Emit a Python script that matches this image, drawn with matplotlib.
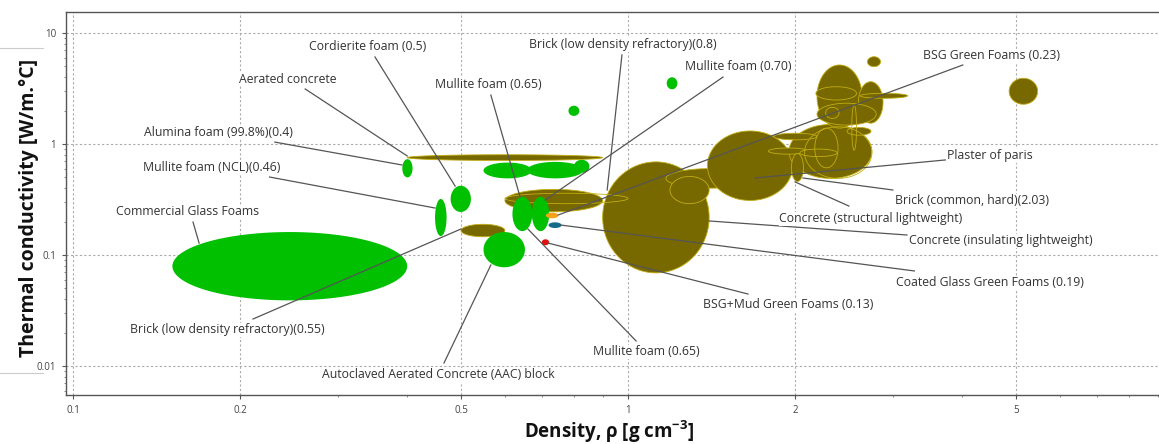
import numpy as np
import matplotlib
matplotlib.use("Agg")
import matplotlib.pyplot as plt
from matplotlib.ticker import FixedLocator, NullFormatter, LogLocator
from matplotlib.lines import Line2D

plt.rcParams['font.family'] = ['Open Sans', 'DejaVu Sans']
plt.rcParams['mathtext.fontset'] = 'custom'
plt.rcParams['mathtext.rm'] = 'Open Sans'
plt.rcParams['mathtext.bf'] = 'Open Sans:bold'

# material bubbles: density range [g/cm3], conductivity range [W/m.C]
olive_rho_lo = [0.40, 0.90, 0.60, 0.50, 1.17, 1.19, 1.39, 1.95, 2.19, 2.60, 2.18, 2.62, 2.19, 2.48, 1.83, 1.79, 2.04, 1.97, 2.70, 4.86]
olive_rho_hi = [0.90, 1.40, 0.90, 0.60, 1.69, 1.40, 1.98, 2.75, 2.64, 2.88, 2.58, 3.19, 2.80, 2.74, 2.19, 2.11, 2.38, 2.07, 2.85, 5.47]
olive_k_lo = [0.71, 0.069, 0.245, 0.146, 0.40, 0.29, 0.31, 0.49, 1.39, 1.54, 2.49, 2.58, 1.48, 1.20, 1.09, 0.81, 0.77, 0.46, 4.97, 2.28]
olive_k_hi = [0.80, 0.69, 0.39, 0.189, 0.60, 0.51, 1.31, 1.50, 5.15, 3.64, 3.28, 2.86, 2.33, 1.41, 1.25, 0.92, 0.90, 0.82, 6.11, 3.91]

# outline-only bubbles
ring_rho_lo = [0.60, 2.27, 2.53, 2.17, 2.08]
ring_rho_hi = [1.00, 2.40, 2.58, 2.39, 2.75]
ring_k_lo = [0.29, 1.70, 0.88, 0.61, 0.49]
ring_k_hi = [0.36, 2.14, 2.25, 1.39, 1.43]

green_rho_lo = [0.151, 0.392, 0.449, 0.479, 0.619, 0.671, 0.549, 0.549, 0.658, 0.799, 0.781, 1.174]
green_rho_hi = [0.400, 0.409, 0.471, 0.521, 0.672, 0.721, 0.652, 0.671, 0.831, 0.852, 0.817, 1.227]
green_k_lo = [0.039, 0.50, 0.148, 0.244, 0.164, 0.164, 0.0775, 0.49, 0.49, 0.55, 1.79, 3.11]
green_k_hi = [0.161, 0.73, 0.32, 0.42, 0.335, 0.335, 0.161, 0.68, 0.69, 0.72, 2.21, 3.99]

# new green foams: BSG, Coated Glass, BSG+Mud
foam_rho_lo = [0.711, 0.719, 0.699]
foam_rho_hi = [0.749, 0.759, 0.721]
foam_k_lo = [0.214, 0.175, 0.1223]
foam_k_hi = [0.2405, 0.197, 0.1385]
foam_colors = ['#f7a21b', '#156b8a', '#e01010']

labels = ['Cordierite foam (0.5)', 'Aerated concrete', 'Alumina foam (99.8%)(0.4)',
          'Mullite foam (NCL)(0.46)', 'Commercial Glass Foams', 'Brick (low density refractory)(0.55)',
          'Autoclaved Aerated Concrete (AAC) block', 'Mullite foam (0.65)',
          'Brick (low density refractory)(0.8)', 'Mullite foam (0.70)', 'BSG Green Foams (0.23)',
          'Plaster of paris', 'Brick (common, hard)(2.03)', 'Concrete (structural lightweight)',
          'Concrete (insulating lightweight)', 'Coated Glass Green Foams (0.19)',
          'BSG+Mud Green Foams (0.13)', 'Mullite foam (0.65)']
label_x = [0.340, 0.244, 0.1825, 0.178, 0.1605, 0.190, 0.455, 0.560, 0.979, 1.578, 4.51, 4.49, 4.17, 2.74, 4.70, 4.49, 1.943, 1.077]
label_y = [7.48, 3.85, 1.28, 0.608, 0.244, 0.0211, 0.0083, 3.47, 7.80, 4.94, 6.21, 0.78, 0.3065, 0.211, 0.1337, 0.056, 0.0355, 0.01337]
lead_x0 = [0.350, 0.262, 0.231, 0.226, 0.1645, 0.211, 0.466, 0.566, 0.975, 1.483, 4.01, 3.73, 3.0, 2.50, 3.18, 3.28, 1.645, 1.034]
lead_y0 = [6.08, 3.13, 1.04, 0.504, 0.198, 0.0265, 0.01064, 2.76, 6.34, 4.01, 5.15, 0.718, 0.385, 0.276, 0.1514, 0.0718, 0.0445, 0.0168]
lead_x1 = [0.488, 0.400, 0.3915, 0.449, 0.1687, 0.500, 0.566, 0.639, 0.917, 0.709, 0.748, 1.694, 2.066, 2.0, 1.40, 0.757, 0.718, 0.660]
lead_y1 = [0.418, 0.78, 0.647, 0.265, 0.128, 0.1715, 0.0813, 0.333, 0.385, 0.313, 0.229, 0.494, 0.494, 0.455, 0.2025, 0.186, 0.128, 0.1715]

x_ticks = [0.1, 0.2, 0.5, 1, 2, 5]
x_ticklabels = ['0.1', '0.2', '0.5', '1', '2', '5']
y_ticks = [0.01, 0.1, 1, 10]
y_ticklabels = ['0.01', '0.1', '1', '10']

OLIVE = '#776800'
EDGE = '#c2ad12'
GREEN = '#00c000'


def bubble(ax, x0, x1, y0, y1, **kw):
    # ellipse in log-log space
    t = np.linspace(0, 2 * np.pi, 120)
    cx = (np.log10(x0) + np.log10(x1)) / 2
    rx = (np.log10(x1) - np.log10(x0)) / 2
    cy = (np.log10(y0) + np.log10(y1)) / 2
    ry = (np.log10(y1) - np.log10(y0)) / 2
    xs = 10 ** (cx + rx * np.cos(t))
    ys = 10 ** (cy + ry * np.sin(t))
    ax.fill(xs, ys, **kw)


fig = plt.figure(figsize=(11.59, 4.44), dpi=100)
ax = fig.add_axes([0.0569, 0.1104, 0.9431, 0.8626])
ax.set_xscale('log')
ax.set_yscale('log')
ax.set_xlim(0.0971, 9.05)
ax.set_ylim(0.00548, 15.46)

for i in range(len(olive_rho_lo)):
    bubble(ax, olive_rho_lo[i], olive_rho_hi[i], olive_k_lo[i], olive_k_hi[i],
           facecolor=OLIVE, edgecolor=EDGE, linewidth=0.6, zorder=2)
for i in range(len(ring_rho_lo)):
    bubble(ax, ring_rho_lo[i], ring_rho_hi[i], ring_k_lo[i], ring_k_hi[i],
           facecolor='none', edgecolor=EDGE, linewidth=0.6, zorder=2.5)
for i in range(len(green_rho_lo)):
    bubble(ax, green_rho_lo[i], green_rho_hi[i], green_k_lo[i], green_k_hi[i],
           facecolor=GREEN, edgecolor='none', zorder=3)
for i in range(len(foam_rho_lo)):
    bubble(ax, foam_rho_lo[i], foam_rho_hi[i], foam_k_lo[i], foam_k_hi[i],
           facecolor=foam_colors[i], edgecolor='none', zorder=3.5)

for i in range(len(labels)):
    ax.plot([lead_x0[i], lead_x1[i]], [lead_y0[i], lead_y1[i]], color='#555555', lw=0.9, zorder=5)
    ax.text(label_x[i], label_y[i], labels[i], ha='center', va='center', fontsize=8.8,
            color='#333333', zorder=6,
            bbox=dict(facecolor='white', edgecolor='none', pad=0.5))

ax.xaxis.set_major_locator(FixedLocator(x_ticks))
ax.set_xticklabels(x_ticklabels)
ax.yaxis.set_major_locator(FixedLocator(y_ticks))
ax.set_yticklabels(y_ticklabels)
ax.xaxis.set_minor_locator(LogLocator(base=10, subs=np.arange(2, 10)))
ax.yaxis.set_minor_locator(LogLocator(base=10, subs=np.arange(2, 10)))
ax.xaxis.set_minor_formatter(NullFormatter())
ax.yaxis.set_minor_formatter(NullFormatter())
ax.tick_params(which='major', length=3, width=0.8, color='#555555', labelsize=7, labelcolor='#444444', pad=4)
ax.tick_params(which='minor', length=1.5, width=0.6, color='#777777')

ax.grid(True, which='major', linestyle=(0, (2, 2)), color='#aaaaaa', linewidth=0.8, zorder=0)
ax.set_axisbelow(True)
for side in ['left', 'bottom', 'top']:
    ax.spines[side].set_color('#555555')
    ax.spines[side].set_linewidth(1.0)
ax.spines['right'].set_visible(False)

fig.text(609 / 1159, 1 - 432 / 444, r'Density, ρ [g cm$^{\mathbf{-3}}$]', ha='center', va='center',
         fontsize=13.5, fontweight='bold', color='#111111')
fig.text(29 / 1159, 1 - 208 / 444, 'Thermal conductivity [W/m.°C]', rotation=90, ha='center', va='center',
         fontsize=14, fontweight='bold', color='#111111')

# stray crop marks at the left edge
fig.add_artist(Line2D([0, 43 / 1159], [1 - 48 / 444, 1 - 48 / 444], color='#cccccc', lw=0.8))
fig.add_artist(Line2D([0, 43 / 1159], [1 - 373 / 444, 1 - 373 / 444], color='#cccccc', lw=0.8))

fig.savefig('out.png', dpi=100)
